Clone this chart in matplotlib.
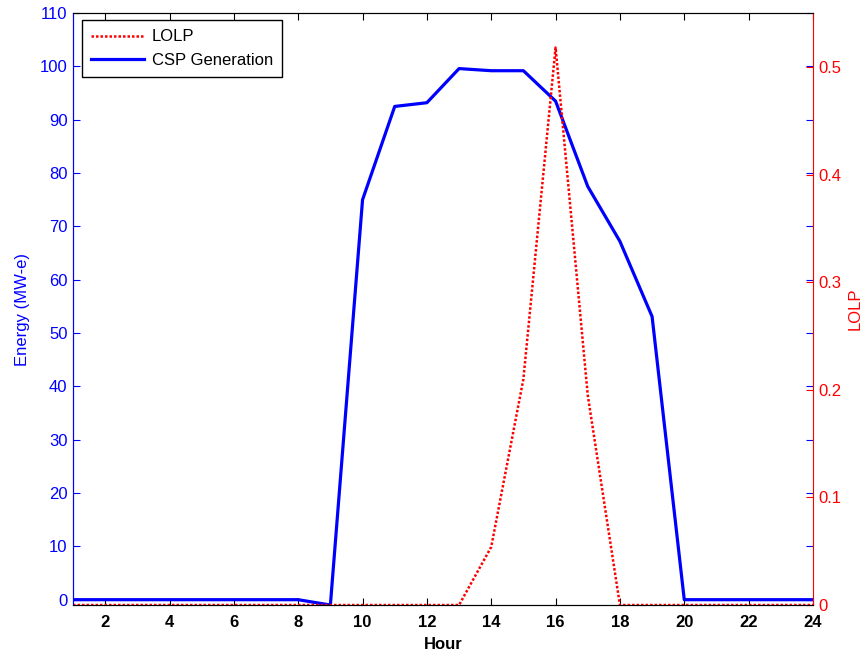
import numpy as np
import matplotlib.pyplot as plt

plt.rcParams['font.family'] = ['Liberation Sans', 'DejaVu Sans']

hours = list(range(1, 25))
csp_gen = [0, 0, 0, 0, 0, 0, 0, 0, -1, 75.0, 92.5, 93.2, 99.6, 99.2, 99.2,
           93.5, 77.5, 67.2, 53.1, 0, 0, 0, 0, 0]
lolp = [0, 0, 0, 0, 0, 0, 0, 0, 0, 0, 0, 0, 0, 0.054, 0.21, 0.518, 0.195,
        0, 0, 0, 0, 0, 0, 0]

x_ticks = list(range(2, 25, 2))
left_ticks = list(range(0, 111, 10))
right_ticks = [0, 0.1, 0.2, 0.3, 0.4, 0.5]

blue = "#0000ff"
red = "#ff0000"
fs = 12

fig = plt.figure(figsize=(8.63, 6.56), dpi=100)
ax1 = fig.add_axes([0.0846, 0.0777, 0.8574, 0.9023])
ax2 = ax1.twinx()

l_csp, = ax1.plot(hours, csp_gen, color=blue, linewidth=2.3, label="CSP Generation")
l_lolp, = ax2.plot(hours, lolp, color=red, linewidth=1.8, linestyle=(0, (1, 0.8)),
                   label="LOLP")

ax1.set_xlim(1, 24)
ax1.set_ylim(-1, 110)
ax2.set_ylim(0, 0.55)

ax1.set_xticks(x_ticks)
ax1.set_xticklabels([str(t) for t in x_ticks], fontweight="bold", fontsize=fs)
ax1.set_yticks(left_ticks)
ax1.set_yticklabels([str(t) for t in left_ticks], color=blue, fontsize=fs)
ax2.set_yticks(right_ticks)
ax2.set_yticklabels(["0", "0.1", "0.2", "0.3", "0.4", "0.5"], color=red, fontsize=fs)

ax1.tick_params(axis="x", direction="in", top=True, length=5, color="black", pad=7)
ax1.tick_params(axis="y", direction="in", right=True, length=5, color=blue, pad=4)
ax2.tick_params(axis="y", direction="in", length=5, color=red, pad=4)

ax1.spines["left"].set_color(blue)
ax1.spines["right"].set_visible(False)
ax2.spines["right"].set_color(red)
ax2.spines["left"].set_color(blue)
ax2.spines["top"].set_color("black")
ax2.spines["bottom"].set_color("black")

ax1.set_xlabel("Hour", fontweight="bold", fontsize=fs, labelpad=5)
ax1.set_ylabel("Energy (MW-e)", color=blue, fontsize=fs, labelpad=7)
ax2.set_ylabel("LOLP", color=red, fontsize=fs, labelpad=4)

leg = ax2.legend([l_lolp, l_csp], ["LOLP", "CSP Generation"], loc="upper left",
                 bbox_to_anchor=(0.012, 0.988), borderaxespad=0, fancybox=False,
                 edgecolor="black", framealpha=1, fontsize=fs, handlelength=3.2,
                 handletextpad=0.45, borderpad=0.55, labelspacing=0.5)
leg.get_frame().set_linewidth(1.0)

fig.savefig("out.png", dpi=100)
